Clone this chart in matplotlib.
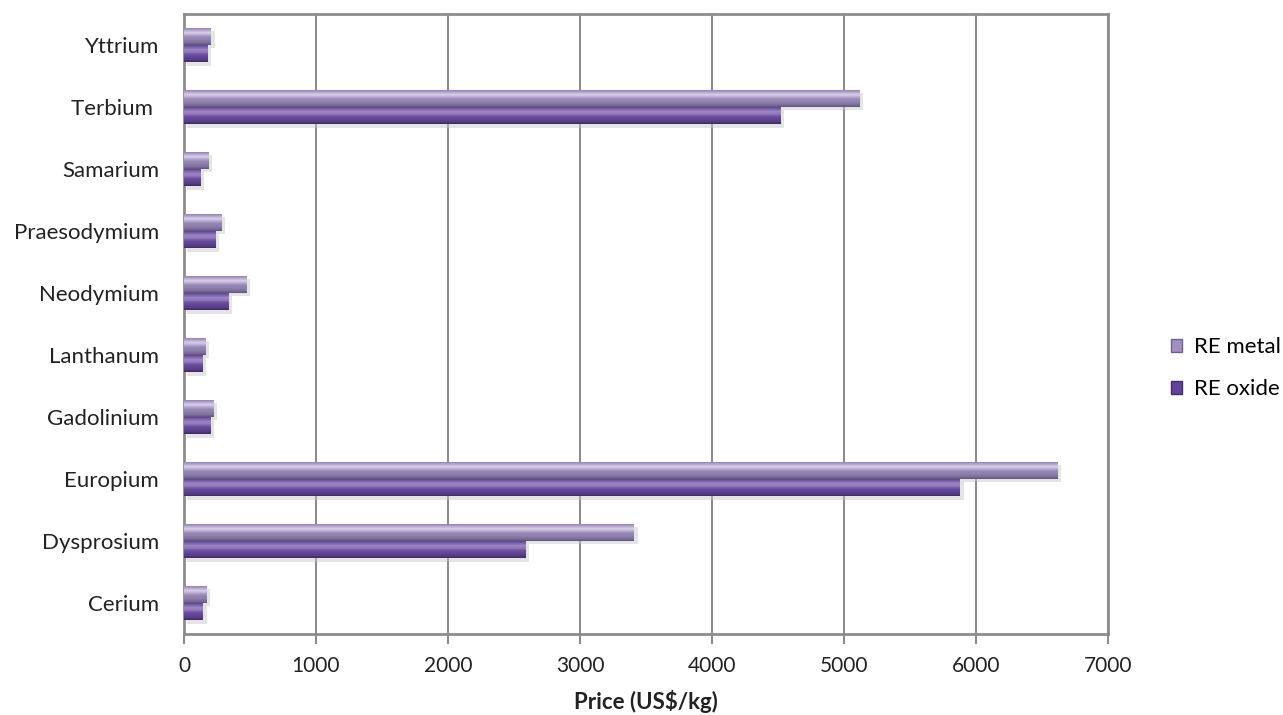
import matplotlib
matplotlib.use("Agg")
import matplotlib.pyplot as plt
import matplotlib.patheffects as pe
from matplotlib.colors import to_rgb
from matplotlib.patches import Rectangle
import numpy as np

plt.rcParams['font.family'] = ['Lato', 'DejaVu Sans']

elements = ["Cerium", "Dysprosium", "Europium", "Gadolinium", "Lanthanum",
            "Neodymium", "Praesodymium", "Samarium", "Terbium ", "Yttrium"]
re_metal = [172, 3410, 6620, 227, 167, 475, 288, 189, 5120, 208]
re_oxide = [146, 2590, 5880, 202, 144, 341, 242, 129, 4520, 182]
x_ticks = [0, 1000, 2000, 3000, 4000, 5000, 6000, 7000]

fig = plt.figure(figsize=(12.83, 7.15), dpi=100)
ax = fig.add_axes([0.1434, 0.1133, 0.7202, 0.8671])

y = np.arange(len(elements))
h = 0.28

# vertical shading profile of each bar: (relative position bottom->top, colour)
metal_profile = [(0.00, "#5f527d"), (0.15, "#7d6e9c"), (0.45, "#9a8bb8"),
                 (0.70, "#d8cfe8"), (0.86, "#b5a7cd"), (1.00, "#8e80ab")]
oxide_profile = [(0.00, "#3d2862"), (0.15, "#563b86"), (0.45, "#6a4c9c"),
                 (0.70, "#a088c8"), (0.86, "#7d63aa"), (1.00, "#5b4388")]


def profile_colour(profile, t):
    pos = [p for p, _ in profile]
    rgb = np.array([to_rgb(c) for _, c in profile])
    return tuple(np.interp(t, pos, rgb[:, k]) for k in range(3))


shadow = [pe.SimplePatchShadow(offset=(2.5, -2.5), shadow_rgbFace="#c4c4c4", alpha=0.45), pe.Normal()]
n_strips = 16


def draw_series(values, base, profile):
    bars = ax.barh(base, values, height=h, align="edge",
                   color=profile_colour(profile, 0.0), linewidth=0, zorder=3)
    for b in bars:
        b.set_path_effects(shadow)
    for k in range(n_strips):
        t0 = k / n_strips
        ax.barh(base + t0 * h, values, height=h / n_strips, align="edge",
                color=profile_colour(profile, t0 + 0.5 / n_strips),
                linewidth=0, zorder=3.1)


draw_series(re_metal, y, metal_profile)
draw_series(re_oxide, y - h, oxide_profile)

ax.set_xlim(0, 7000)
ax.set_ylim(-0.5, len(elements) - 0.5)
ax.set_xticks(x_ticks)
ax.set_xticklabels([str(t) for t in x_ticks], fontsize=15, color="#222222")
ax.set_yticks(y)
ax.set_yticklabels(elements, fontsize=16, color="#222222")
ax.tick_params(axis="y", length=0, pad=18)
ax.tick_params(axis="x", length=7, width=1.5, color="#8c8c8c", pad=9)

ax.xaxis.grid(True, color="#8c8c8c", linewidth=1.5, zorder=0)
ax.set_axisbelow(True)
for s in ax.spines.values():
    s.set_color("#8c8c8c")
    s.set_linewidth(2)

ax.set_xlabel("Price (US$/kg)", fontsize=16, fontweight="bold", labelpad=10, color="#222222")

# legend
handles = [Rectangle((0, 0), 1, 1, facecolor="#a091bd", edgecolor="#6f6290", linewidth=1),
           Rectangle((0, 0), 1, 1, facecolor="#62449a", edgecolor="#45306b", linewidth=1)]
fig.legend(handles, ["RE metal", "RE oxide"], loc="center left",
           bbox_to_anchor=(0.913, 0.485), frameon=False, fontsize=16,
           borderpad=0, borderaxespad=0,
           handlelength=0.5, handleheight=0.5, handletextpad=0.5, labelspacing=1.0)

fig.savefig("out.png", dpi=100)
